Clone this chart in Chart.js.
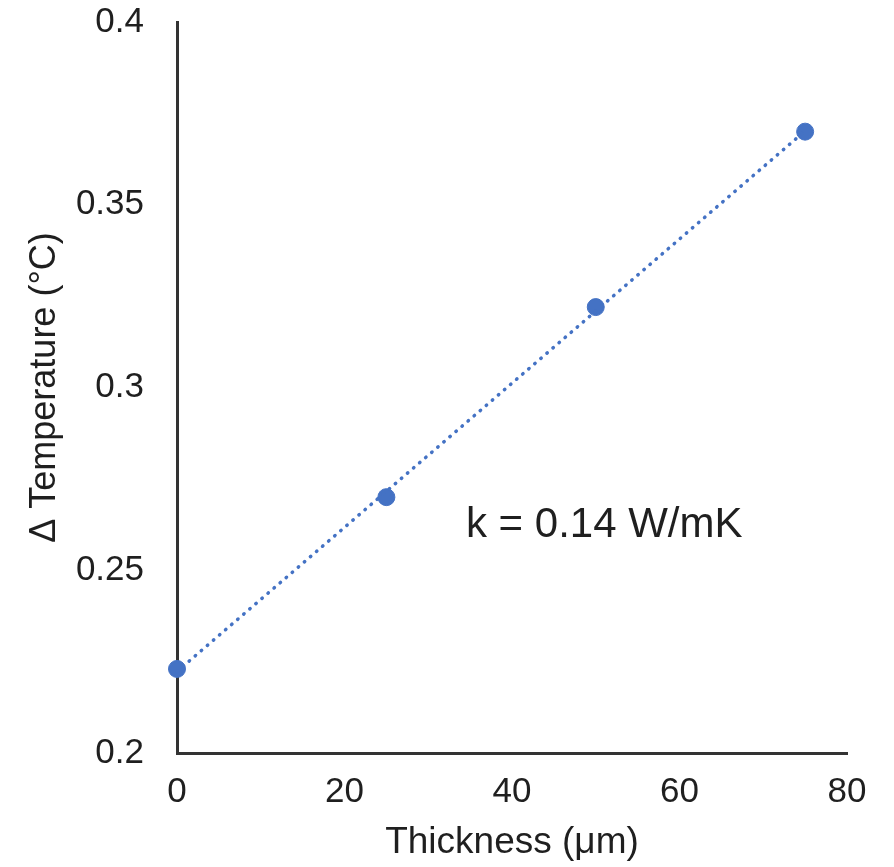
<!DOCTYPE html>
<html>
<head>
<meta charset="utf-8">
<script src="https://cdn.jsdelivr.net/npm/chart.js@4"></script>
<style>
  html, body { margin: 0; padding: 0; background: #fff; }
  #wrap { width: 894px; height: 867px; }
</style>
</head>
<body>
<div id="wrap"><canvas id="chart" width="894" height="867"></canvas></div>
<script>
// data
const thickness = [0, 25, 50, 75];
const deltaTemp = [0.223, 0.270, 0.322, 0.370];
const xTicks = [0, 20, 40, 60, 80];
const yTicks = [0.2, 0.25, 0.3, 0.35, 0.4];
const note = "k = 0.14 W/mK";

// linear trendline (least squares) over the measured points
const n = thickness.length;
const mx = thickness.reduce((a, b) => a + b, 0) / n;
const my = deltaTemp.reduce((a, b) => a + b, 0) / n;
let sxy = 0, sxx = 0;
for (let i = 0; i < n; i++) {
  sxy += (thickness[i] - mx) * (deltaTemp[i] - my);
  sxx += (thickness[i] - mx) ** 2;
}
const slope = sxy / sxx;
const icpt = my - slope * mx;
const xFirst = thickness[0], xLast = thickness[n - 1];
const trend = [
  { x: xFirst, y: icpt + slope * xFirst },
  { x: xLast, y: icpt + slope * xLast },
];

const blue = "#4472C4";
const ink = "#1f1f1f";
const fam = "'Liberation Sans', Arial, sans-serif";

// text note placed in data coordinates
const notePlugin = {
  id: "note",
  afterDatasetsDraw(chart) {
    const { ctx, scales } = chart;
    ctx.save();
    ctx.font = "42px " + fam;
    ctx.fillStyle = ink;
    ctx.textAlign = "left";
    ctx.textBaseline = "middle";
    ctx.fillText(note, scales.x.getPixelForValue(34.5), scales.y.getPixelForValue(0.2624));
    ctx.restore();
  },
};

new Chart(document.getElementById("chart"), {
  type: "scatter",
  data: {
    datasets: [
      {
        label: "trend",
        data: trend,
        showLine: true,
        borderColor: blue,
        borderWidth: 3.5,
        borderDash: [0.5, 7.5],
        borderCapStyle: "round",
        pointRadius: 0,
        clip: false,
      },
      {
        label: "ΔT",
        data: thickness.map((x, i) => ({ x: x, y: deltaTemp[i] })),
        backgroundColor: blue,
        borderColor: blue,
        pointRadius: 8.5,
        pointHoverRadius: 8.5,
        clip: false,
      },
    ],
  },
  options: {
    responsive: false,
    animation: false,
    layout: { padding: { top: 22, right: 47, left: 0, bottom: 0 } },
    plugins: {
      legend: { display: false },
      tooltip: { enabled: false },
    },
    scales: {
      x: {
        type: "linear",
        min: 0,
        max: 80,
        afterBuildTicks: (s) => { s.ticks = xTicks.map((v) => ({ value: v })); },
        afterFit: (s) => { s.height = 114; s.paddingLeft = 0; s.paddingRight = 0; },
        grid: { display: false, drawTicks: false },
        border: { display: true, color: "#333", width: 3 },
        ticks: { padding: 18, color: ink, font: { family: fam, size: 35 } },
        title: {
          display: true,
          text: "Thickness (μm)",
          color: ink,
          font: { family: fam, size: 37 },
          padding: { top: 2, bottom: 2 },
        },
      },
      y: {
        type: "linear",
        min: 0.2,
        max: 0.4,
        afterBuildTicks: (s) => { s.ticks = yTicks.map((v) => ({ value: v })); },
        afterFit: (s) => { s.width = 177; s.paddingTop = 0; s.paddingBottom = 0; },
        grid: { display: false, drawTicks: false },
        border: { display: true, color: "#333", width: 3 },
        ticks: {
          padding: 33,
          color: ink,
          font: { family: fam, size: 35 },
          callback: (v) => String(+v.toFixed(2)),
        },
        title: {
          display: true,
          text: "Δ Temperature (°C)",
          color: ink,
          font: { family: fam, size: 36 },
          padding: { top: 23, bottom: 23 },
        },
      },
    },
  },
  plugins: [notePlugin],
});
</script>
</body>
</html>
